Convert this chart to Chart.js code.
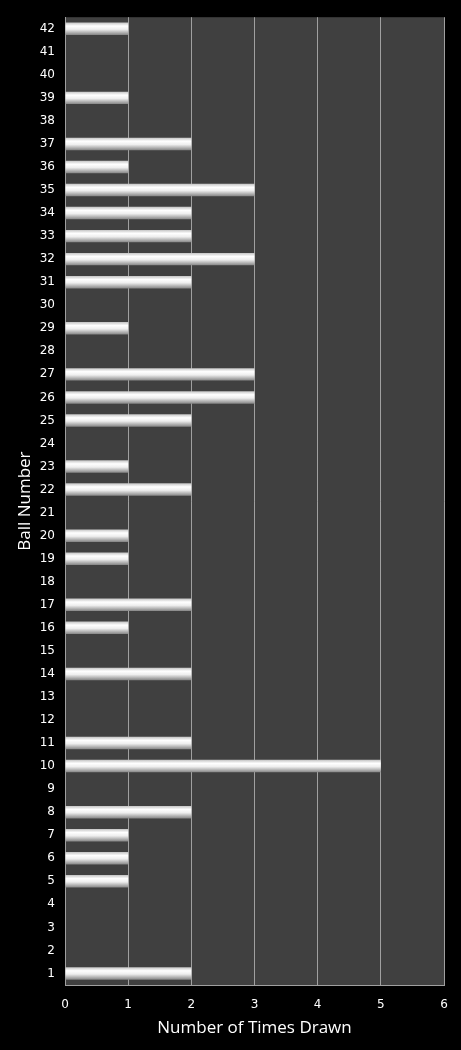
<!DOCTYPE html>
<html>
<head>
<meta charset="utf-8">
<script src="https://cdn.jsdelivr.net/npm/chart.js@4/dist/chart.umd.min.js"></script>
<style>
  html, body { margin: 0; padding: 0; background: #000; }
  #wrap { width: 461px; height: 1050px; }
</style>
</head>
<body>
<div id="wrap"><canvas id="ballChart"></canvas></div>
<script>
// ball numbers 1..42 and how often each was drawn
const ballNumbers = [
  '1','2','3','4','5','6','7','8','9','10',
  '11','12','13','14','15','16','17','18','19','20',
  '21','22','23','24','25','26','27','28','29','30',
  '31','32','33','34','35','36','37','38','39','40',
  '41','42'
];
const timesDrawn = [
  2, 0, 0, 0, 1, 1, 1, 2, 0, 5,
  2, 0, 0, 2, 0, 1, 2, 0, 1, 1,
  0, 2, 1, 0, 2, 3, 3, 0, 1, 0,
  2, 3, 2, 2, 3, 1, 2, 0, 1, 0,
  0, 1
];
const xTicks = [0, 1, 2, 3, 4, 5, 6];

const plotBackground = {
  id: 'plotBackground',
  beforeDraw(chart) {
    const { ctx, chartArea: a } = chart;
    ctx.save();
    ctx.fillStyle = '#404040';
    ctx.fillRect(a.left, a.top, a.right - a.left, a.bottom - a.top);
    ctx.restore();
  }
};

// shiny cylinder look on every bar (own options object per bar,
// the resolved ones are shared between elements)
const barShine = {
  id: 'barShine',
  beforeDatasetsDraw(chart) {
    const ctx = chart.ctx;
    chart.getDatasetMeta(0).data.forEach(bar => {
      const top = bar.y - bar.height / 2;
      const g = ctx.createLinearGradient(0, top, 0, top + bar.height);
      g.addColorStop(0, '#c4c4c4');
      g.addColorStop(0.28, '#ffffff');
      g.addColorStop(0.55, '#eeeeee');
      g.addColorStop(1, '#858585');
      bar.options = Object.assign({}, bar.options, { backgroundColor: g });
    });
  }
};

new Chart(document.getElementById('ballChart'), {
  type: 'bar',
  data: {
    labels: ballNumbers,
    datasets: [{
      data: timesDrawn,
      backgroundColor: '#e0e0e0',
      borderWidth: 0,
      barPercentage: 0.54,
      categoryPercentage: 1
    }]
  },
  options: {
    indexAxis: 'y',
    responsive: true,
    maintainAspectRatio: false,
    animation: false,
    layout: { padding: { top: 16, right: 17, bottom: 0, left: 0 } },
    plugins: {
      legend: { display: false },
      tooltip: { enabled: false }
    },
    scales: {
      x: {
        min: 0,
        max: 6,
        afterBuildTicks: scale => { scale.ticks = xTicks.map(v => ({ value: v })); },
        afterFit: scale => { scale.height = 65; },
        grid: { color: '#a0a0a0', drawTicks: false },
        border: { display: true, color: '#a0a0a0' },
        ticks: {
          color: '#ffffff',
          padding: 13,
          font: { family: 'DejaVu Sans', size: 12 }
        },
        title: {
          display: true,
          text: 'Number of Times Drawn',
          color: '#ffffff',
          font: { family: 'Open Sans', size: 17 },
          padding: { top: 4, bottom: 12 }
        }
      },
      y: {
        reverse: true,
        afterFit: scale => { scale.width = 65; },
        grid: { display: false, drawTicks: false },
        border: { display: true, color: '#a0a0a0' },
        ticks: {
          color: '#ffffff',
          padding: 10,
          autoSkip: false,
          font: { family: 'DejaVu Sans', size: 12 }
        },
        title: {
          display: true,
          text: 'Ball Number',
          color: '#ffffff',
          font: { family: 'Open Sans', size: 17 },
          padding: { top: 15, bottom: 4 }
        }
      }
    }
  },
  plugins: [plotBackground, barShine]
});
</script>
</body>
</html>
